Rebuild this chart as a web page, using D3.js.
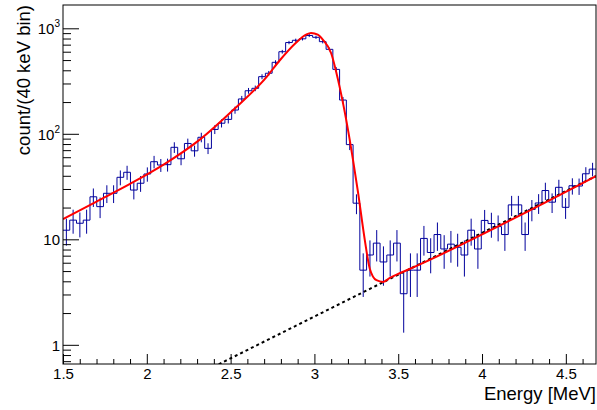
<!DOCTYPE html>
<html>
<head>
    <title>Energy spectrum</title>
    <meta http-equiv="content-type" content="text/html; charset=UTF-8">
    <script type="text/javascript" src="https://cdn.jsdelivr.net/npm/d3@7"></script>
</head>
<body style="margin:0;background:#fff">

<style>
    text {
        font-family: "Liberation Sans", Arial, sans-serif;
        fill: #000;
    }
    .hist {
        fill: none;
        stroke: #00009c;
        stroke-width: 1px;
    }
    .err {
        stroke: #00009c;
        stroke-width: 1px;
    }
</style>

<script type="text/javascript">
    // counts per 40 keV bin, starting at 1.5 MeV
    var binCounts = [
        12.2, 15.2, 14.2, 15.2, 25.3, 20.4, 27.3, 27.3, 38.7, 43.2,
        29.3, 34, 41.6, 54.4, 50.6, 51, 74.5, 58, 81, 69,
        92.7, 72.8, 110, 126, 137, 168, 214, 256, 270, 348,
        375, 476, 600, 733, 770, 795, 855, 822, 747, 632,
        408, 209, 79, 22, 5.1, 7.1, 9.2, 6.1, 7.1, 9.2,
        3.05, 5.1, 5.1, 10.2, 7.5, 11.1, 8.1, 9.0, 8.4, 7.1,
        12.2, 8.1, 15.1, 14.1, 13.2, 11.1, 21.2, 21.2, 11.1, 19.2,
        22.1, 29, 22.5, 31.1, 20.1, 32.2, 32, 41.8, 46.3
    ];
    var binLow = 1.5, binWidth = 0.04025;

    // fit curve
    var fitEnergy = [1.5, 1.7, 1.9, 2.1, 2.32, 2.515, 2.714, 2.79, 2.89, 2.95, 2.98, 3.02, 3.05, 3.1,
        3.14, 3.19, 3.23, 3.26, 3.3, 3.33, 3.37, 3.41, 3.45, 3.6, 4.68];
    var fitCounts = [15.5, 22.8, 33.5, 51, 89, 168, 345, 490, 730, 870, 905, 870, 780, 580,
        330, 135, 57, 28, 10, 5.3, 4.1, 3.95, 4.3, 5.5, 39.8];

    // background (dashed)
    var bkgEnergy = [1.5, 4.68];
    var bkgCounts = [0.12, 39.8];

    var xTicks = [1.5, 2, 2.5, 3, 3.5, 4, 4.5];
    var xTickLabels = ["1.5", "2", "2.5", "3", "3.5", "4", "4.5"];
    var yTicks = [1, 10, 100, 1000];
    var yTickBase = ["1", "10", "10", "10"];
    var yTickExp = ["", "", "2", "3"];

    var width = 597, height = 410;
    var padL = 63, padR = 596, padT = 5, padB = 364;

    var svg = d3.select("body").append("svg")
        .attr("width", width)
        .attr("height", height);

    var x = d3.scaleLinear().domain([1.5, 4.68]).range([padL, padR]);
    var y = d3.scaleLog().domain([0.658, 1663]).range([padB, padT]);

    svg.append("clipPath").attr("id", "frame")
        .append("rect")
        .attr("x", padL).attr("y", padT)
        .attr("width", padR - padL).attr("height", padB - padT);

    var plot = svg.append("g").attr("clip-path", "url(#frame)");

    // histogram outline
    var steps = binCounts.map(function (v, i) {
        return [binLow + i * binWidth, v];
    });
    steps.push([binLow + binCounts.length * binWidth, binCounts[binCounts.length - 1]]);

    plot.append("path")
        .attr("class", "hist")
        .attr("d", d3.line()
            .x(function (d) { return x(d[0]); })
            .y(function (d) { return y(d[1]); })
            .curve(d3.curveStepAfter)(steps));

    // error bars
    plot.selectAll(".err")
        .data(binCounts)
        .enter().append("line")
        .attr("class", "err")
        .attr("x1", function (d, i) { return x(binLow + (i + 0.5) * binWidth); })
        .attr("x2", function (d, i) { return x(binLow + (i + 0.5) * binWidth); })
        .attr("y1", function (d) { return y(Math.max(d - Math.sqrt(d), 0.5)); })
        .attr("y2", function (d) { return y(d + Math.sqrt(d)); });

    var line = d3.line()
        .x(function (d) { return x(d[0]); })
        .y(function (d) { return y(d[1]); });

    plot.append("path")
        .attr("d", line(d3.zip(bkgEnergy, bkgCounts)))
        .attr("fill", "none")
        .attr("stroke", "#000")
        .attr("stroke-width", 2)
        .attr("stroke-dasharray", "3,3");

    plot.append("path")
        .attr("d", line.curve(d3.curveMonotoneX)(d3.zip(fitEnergy, fitCounts)))
        .attr("fill", "none")
        .attr("stroke", "#ff0000")
        .attr("stroke-width", 2);

    // frame
    svg.append("rect")
        .attr("x", padL).attr("y", padT)
        .attr("width", padR - padL).attr("height", padB - padT)
        .attr("fill", "none")
        .attr("stroke", "#000")
        .attr("stroke-width", 1);

    // x axis ticks
    var xMinor = x.ticks(30).filter(function (t) {
        return Math.abs(t * 2 - Math.round(t * 2)) > 1e-6;
    });
    svg.append("g")
        .attr("transform", "translate(0," + padB + ")")
        .call(d3.axisBottom(x).tickValues(xMinor).tickSize(-5).tickSizeOuter(0).tickFormat(""))
        .call(function (g) { g.select(".domain").remove(); });

    var xAxis = svg.append("g")
        .attr("transform", "translate(0," + padB + ")")
        .call(d3.axisBottom(x).tickValues(xTicks).tickSize(-10).tickSizeOuter(0).tickPadding(3)
            .tickFormat(function (d, i) { return xTickLabels[i]; }));
    xAxis.select(".domain").remove();
    xAxis.selectAll("text")
        .attr("y", 4)
        .style("font-size", "15px")
        .style("font-family", "'Liberation Sans', Arial, sans-serif");

    // y axis ticks
    var yMinor = y.ticks().filter(function (t) {
        return yTicks.indexOf(t) < 0;
    });
    svg.append("g")
        .attr("transform", "translate(" + padL + ",0)")
        .call(d3.axisLeft(y).tickValues(yMinor).tickSize(-8).tickSizeOuter(0).tickFormat(""))
        .call(function (g) { g.select(".domain").remove(); });
    svg.append("g")
        .attr("transform", "translate(" + padL + ",0)")
        .call(d3.axisLeft(y).tickValues(yTicks).tickSize(-16).tickSizeOuter(0).tickFormat(""))
        .call(function (g) { g.select(".domain").remove(); });

    var yLab = svg.selectAll(".ylab")
        .data(yTicks)
        .enter().append("text")
        .attr("class", "ylab")
        .attr("x", 60)
        .attr("y", function (d) { return y(d) + 6; })
        .attr("text-anchor", "end")
        .style("font-size", "15px");
    yLab.append("tspan")
        .text(function (d, i) { return yTickBase[i]; });
    yLab.append("tspan")
        .attr("dy", -7)
        .style("font-size", "10px")
        .text(function (d, i) { return yTickExp[i]; });

    // axis titles
    svg.append("text")
        .attr("x", 596)
        .attr("y", 400)
        .attr("text-anchor", "end")
        .style("font-size", "18.5px")
        .text("Energy [MeV]");

    svg.append("text")
        .attr("transform", "translate(30," + padT + ") rotate(-90)")
        .attr("text-anchor", "end")
        .style("font-size", "18.5px")
        .text("count/(40 keV bin)");
</script>
</body>
</html>
